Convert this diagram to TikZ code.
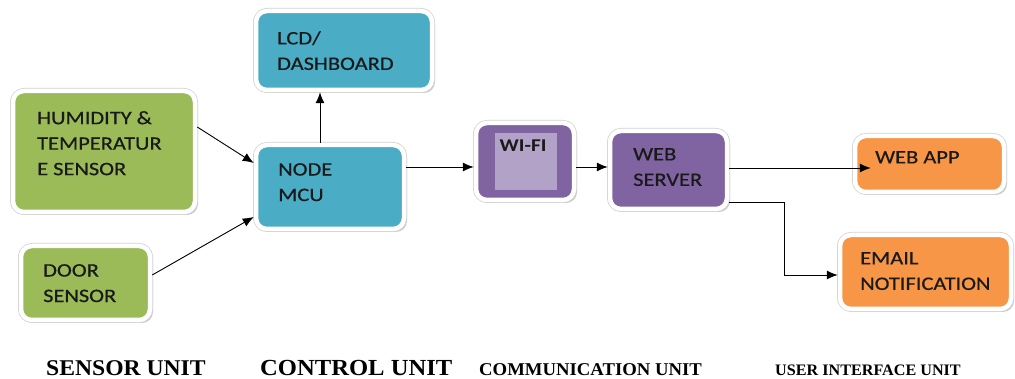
\documentclass[tikz,border=0pt]{standalone}
\usepackage{fontspec}
\setmainfont{Carlito}
\newfontfamily\boxfont{Carlito}[FakeBold=0.5]
\newfontfamily\capfont{Liberation Serif}
\usetikzlibrary{shadows,arrows.meta}
\definecolor{cgreen}{HTML}{9BBB59}
\definecolor{cblue}{HTML}{4BACC6}
\definecolor{cpurple}{HTML}{8064A2}
\definecolor{clpurple}{HTML}{B3A2C7}
\definecolor{corange}{HTML}{F79646}
\newcommand\wx[1]{\scalebox{1.18}[1]{#1}}
\begin{document}
\begin{tikzpicture}[x=1pt,y=-1pt,
  box/.style={rounded corners=11pt, draw=white, line width=4.5pt, inner sep=0pt,
    drop shadow={shadow xshift=3pt,shadow yshift=-3pt,opacity=0.4},
    preaction={draw=black!18, line width=6pt}},
  txt/.style={anchor=north west, inner sep=0pt, align=left, text=black!90,
    font=\boxfont\fontsize{19}{25.5}\selectfont},
  unitcap/.style={anchor=base west, inner sep=0pt, text=black},
  arr/.style={draw=black, line width=0.9pt, -{Latex[length=11pt,width=9pt]}}]
\useasboundingbox (0,0) rectangle (1015,379);

% boxes
\node[box, fill=cgreen, minimum width=182pt, minimum height=121pt] (hum) at (104,151.5) {};
\node[box, fill=cgreen, minimum width=129pt, minimum height=74pt] (door) at (85.5,283) {};
\node[box, fill=cblue, minimum width=148pt, minimum height=84pt] (mcu) at (330,187) {};
\node[box, fill=cblue, minimum width=176pt, minimum height=79pt] (lcd) at (344,50.5) {};
\node[box, fill=cpurple, minimum width=98pt, minimum height=77pt] (wifi) at (525,161.5) {};
\node[fill=clpurple, minimum width=62pt, minimum height=57pt, inner sep=0pt] (wifiin) at (526,161.5) {};
\node[box, fill=cpurple, minimum width=117pt, minimum height=78pt] (server) at (668.5,170) {};
\node[box, fill=corange, minimum width=149pt, minimum height=56pt] (app) at (929.5,164) {};
\node[box, fill=corange, minimum width=171pt, minimum height=74pt] (email) at (925.5,272) {};

% texts
\node[txt] (humt) at (37,111) {\wx{HUMIDITY \&}\\\wx{TEMPERATUR}\\\wx{E SENSOR}};
\node[txt] (doort) at (43,264) {\wx{DOOR}\\\wx{SENSOR}};
\node[txt] (mcut) at (278,163) {\wx{NODE}\\\wx{MCU}};
\node[txt] (lcdt) at (277,31) {\wx{LCD/}\\\wx{DASHBOARD}};
\node[anchor=center, inner sep=0pt, text=black!90, font=\fontsize{18}{22}\selectfont\bfseries] (wifit) at (523,146) {\wx{WI-FI}};
\node[txt] (servert) at (633,148) {\wx{WEB}\\\wx{SERVER}};
\node[txt] (appt) at (875,151) {\wx{WEB APP}};
\node[txt] (emailt) at (860,252) {\wx{EMAIL}\\\wx{NOTIFICATION}};

% connectors
\draw[arr] ([yshift=24.5pt]hum.east) -- ([yshift=24pt]mcu.west);
\draw[arr] ([yshift=8pt]door.east) -- ([yshift=-30pt]mcu.west);
\draw[arr] ([xshift=-10pt]mcu.north) -- ([xshift=-10pt]mcu.north |- lcd.south);
\draw[arr] ([yshift=20pt]mcu.east) -- ([yshift=20pt]mcu.east -| wifi.west);
\draw[arr] ([yshift=-5.5pt]wifi.east) -- ([yshift=-5.5pt]wifi.east -| server.west);
\draw[arr] ([yshift=2pt]server.east) -- ([yshift=2pt,xshift=18pt]server.east -| app.west);
\draw[arr] ([yshift=-32pt]server.east) -- ++(55,0) |- ([yshift=-3pt]email.west);

% unit captions
\node[unitcap, font=\capfont\bfseries\fontsize{22.5}{26}\selectfont] (c1) at (46,376) {\scalebox{1.05}[1]{SENSOR UNIT}};
\node[unitcap, font=\capfont\bfseries\fontsize{23}{26}\selectfont] (c2) at (260,376) {\scalebox{1.07}[1]{CONTROL UNIT}};
\node[unitcap, font=\capfont\bfseries\fontsize{18}{22}\selectfont] (c3) at (479,376) {\scalebox{1.04}[1]{COMMUNICATION UNIT}};
\node[unitcap, font=\capfont\bfseries\fontsize{16}{20}\selectfont] (c4) at (775,376) {\scalebox{1.01}[1]{USER INTERFACE UNIT}};
\end{tikzpicture}
\end{document}
